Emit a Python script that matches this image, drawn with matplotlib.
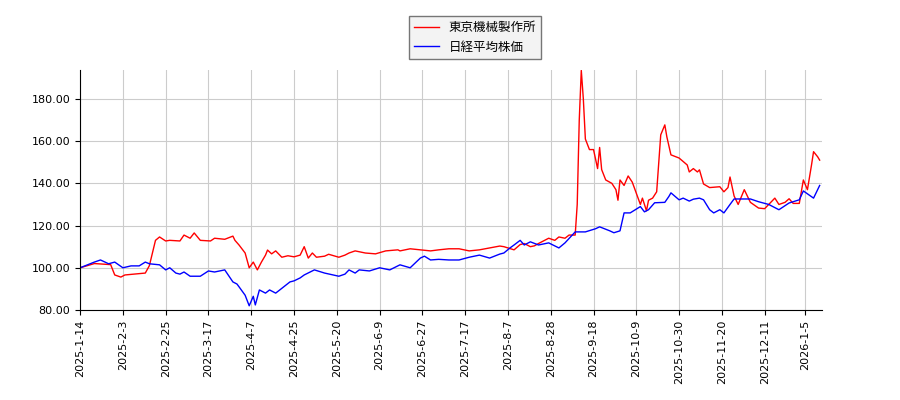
import datetime as dt
import matplotlib
matplotlib.use('Agg')
import matplotlib.pyplot as plt
from matplotlib.ticker import FormatStrFormatter

plt.rcParams['font.family'] = ['Noto Sans CJK JP', 'DejaVu Sans']

START = dt.date(2025, 1, 14)

# days since 2025-1-14, relative price (start = 100)
tokyo_days = [0, 7, 15, 17, 20, 22, 32, 34, 37, 39, 42, 44, 49, 51, 54, 56, 59, 64, 66, 71, 75, 76, 78, 81,
              83, 85, 87, 89, 91, 92, 94, 96, 99, 102, 105, 108, 110, 112, 114, 116, 120, 122, 127, 130,
              132, 135, 140, 145, 150, 156, 157, 162, 167, 172, 176, 181, 186, 191, 196, 201, 206, 208,
              213, 216, 218, 221, 223, 225, 230, 233, 235, 238, 240, 243, 244, 245, 246, 247, 248, 250,
              252, 254, 255, 256, 258, 261, 263, 264, 265, 267, 269, 271, 272, 275, 276, 278, 279, 281,
              283, 285, 287, 288, 290, 294, 298, 299, 301, 303, 304, 306, 309, 314, 316, 318, 319, 321,
              323, 326, 329, 333, 336, 338, 341, 343, 346, 348, 350, 353, 355, 357, 359, 360, 362, 363]
tokyo_vals = [100, 102, 101.5, 96.6, 95.6, 96.6, 97.5, 101, 113, 114.6, 112.7, 113, 112.7, 115.5, 114, 116.5,
              113, 112.7, 114, 113.5, 115, 113, 110.8, 107, 100, 102.7, 99, 102.7, 106, 108.4, 106.6, 108,
              105, 105.7, 105.2, 106, 110, 104.6, 107, 105, 105.5, 106.4, 105, 106, 107, 108, 107, 106.6,
              108, 108.5, 108, 109, 108.5, 108, 108.5, 109, 109, 108, 108.5, 109.4, 110.3, 110,
              108.5, 111, 111.5, 110, 110.4, 111.5, 114, 113, 114.6, 114, 115.5, 115.5, 130, 170, 193.5,
              180, 161, 156, 156, 147, 157, 146.5, 141.6, 140, 137, 132, 141.6, 139, 143.5, 140.6, 138,
              130, 133, 127, 132, 133, 136, 163, 167.7, 162, 153.5, 152, 148.7, 145.4, 147, 145.4, 146.4,
              139.7, 138, 138.4, 136, 138, 143, 134, 130, 137, 131, 128.3, 128, 130, 133, 130, 131, 132.7,
              130.5, 130.5, 141.6, 137, 148.7, 155, 152.6, 151]

nikkei_days = [0, 7, 10, 14, 17, 21, 25, 29, 32, 34, 39, 42, 44, 47, 49, 51, 54, 59, 63, 66, 71, 75, 77, 78,
               81, 83, 85, 86, 88, 91, 93, 96, 98, 103, 105, 108, 110, 115, 120, 127, 130, 132, 135, 137,
               142, 147, 152, 157, 162, 167, 169, 172, 176, 181, 186, 191, 196, 201, 206, 208, 211, 213,
               216, 218, 221, 225, 230, 235, 238, 243, 248, 253, 255, 260, 262, 265, 267, 270, 275, 277,
               279, 282, 287, 289, 290, 294, 296, 299, 301, 304, 306, 309, 311, 314, 316, 319, 321, 329,
               333, 338, 343, 348, 353, 355, 360, 363]
nikkei_vals = [100, 102.7, 103.7, 101.9, 102.7, 100, 100.9, 100.9, 102.7, 101.9, 101.4, 99, 100, 97.5, 97, 98,
               96, 96, 98.5, 98, 99, 93.3, 92.3, 91, 87, 82, 86.5, 82.4, 89.5, 88, 89.5, 88, 89.5, 93.3,
               93.8, 95.2, 96.6, 99, 97.5, 96, 97, 99, 97.5, 99, 98.5, 100, 99, 101.4, 100, 104.6, 105.5,
               103.7, 104, 103.7, 103.7, 105, 106, 104.6, 106.5, 107, 109.4, 110.8, 113, 110.8, 112.3,
               110.8, 111.8, 109.4, 111.8, 117, 117, 118.5, 119.4, 117.5, 116.6, 117.5, 126, 126, 129,
               126.5, 127.5, 130.8, 131, 133.8, 135.5, 132.2, 133, 131.6, 132.5, 133, 132.2, 127.5, 126,
               127.5, 126, 130, 132.6, 132.6, 131.3, 130, 127.5, 130.7, 132.2, 136.4, 133, 139]

# tick positions in the reference, as pixel-derived day offsets, with their labels
tick_days = [0, 21, 42, 63, 84, 105, 126, 147, 168, 189, 210, 231, 252, 273, 294, 315, 336, 356]
tick_labels = ['2025-1-14', '2025-2-3', '2025-2-25', '2025-3-17', '2025-4-7', '2025-4-25', '2025-5-20',
               '2025-6-9', '2025-6-27', '2025-7-17', '2025-8-7', '2025-8-28', '2025-9-18', '2025-10-9',
               '2025-10-30', '2025-11-20', '2025-12-11', '2026-1-5']

tokyo_x = [START + dt.timedelta(days=d) for d in tokyo_days]
nikkei_x = [START + dt.timedelta(days=d) for d in nikkei_days]
tick_dates = [START + dt.timedelta(days=d) for d in tick_days]

fig = plt.figure(figsize=(9, 4), dpi=100)
ax = fig.add_axes([0.089, 0.225, 0.824, 0.6])

ax.plot(tokyo_x, tokyo_vals, color='red', linewidth=1.0, label='東京機械製作所')
ax.plot(nikkei_x, nikkei_vals, color='blue', linewidth=1.0, label='日経平均株価')

ax.set_ylim(80, 193.7)
ax.set_xlim(START - dt.timedelta(days=0.3), START + dt.timedelta(days=364))
ax.yaxis.set_major_formatter(FormatStrFormatter('%.2f'))
ax.set_xticks(tick_dates)
ax.set_xticklabels(tick_labels, rotation=90, fontsize=8, family='DejaVu Sans')
for lab in ax.get_yticklabels():
    lab.set_fontsize(8)
    lab.set_family('DejaVu Sans')
ax.grid(True, color='#cccccc', linewidth=0.8)
ax.set_axisbelow(True)
for s in ['top', 'right']:
    ax.spines[s].set_visible(False)

fig.legend(loc='upper center', bbox_to_anchor=(0.528, 0.975), fontsize=9, frameon=True,
           fancybox=False, edgecolor='#555555', facecolor='#f0f0f0')

fig.savefig('out.png', dpi=100)
